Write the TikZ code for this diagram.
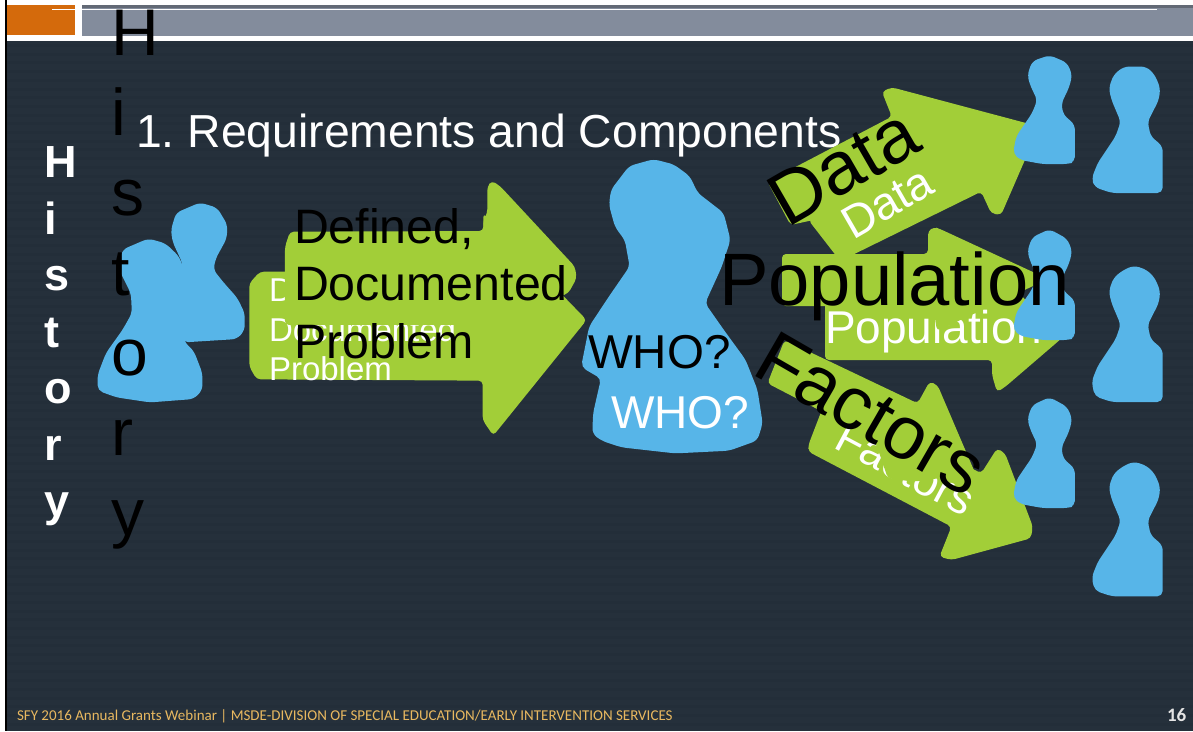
\documentclass[tikz,border=0pt]{standalone}
\usepackage{fontspec}
\setmainfont{Liberation Sans}
\newfontfamily\foot{Carlito}
\definecolor{bgdark}{HTML}{25303B}
\definecolor{bgline}{HTML}{232E39}
\definecolor{grn}{HTML}{A2CE38}
\definecolor{blu}{HTML}{57B5E8}
\definecolor{org}{HTML}{D46A0C}
\definecolor{gry}{HTML}{838C9C}
\definecolor{gold}{HTML}{E8B860}
\tikzset{
  fillg/.style={fill=grn,rounded corners=4pt},
  fillb/.style={fill=blu,draw=blu,line width=1.5pt,line join=round,rounded corners=5pt},
  txt/.style={inner sep=0pt,outer sep=0pt,anchor=base west},
  wt/.style={txt,text=white},
  bk/.style={txt,text=black},
  zthree/.style={shift={(570,50)},x=0.3973pt,y=-0.3333pt},
  zfour/.style={shift={(570,300)},x=0.3973pt,y=-0.3333pt},
  ztwo/.style={shift={(90,170)},x=0.3333pt,y=-0.3333pt}
}
\newcommand{\fs}[1]{\fontsize{#1}{#1}\selectfont}
\newcommand{\smallp}[2]{\path[fillb,zthree,yshift=-#1pt]
 (1207,#2)--(1165,35)--(1153,75)--(1160,105)--(1178,150)--(1165,190)--(1125,260)--(1117,310)--(1135,328)--(1190,340)--(1250,340)--(1269,335)--(1269,225)--(1240,195)--(1235,160)--(1255,110)--(1262,75)--(1250,40)--cycle;}
\newcommand{\bigp}[3]{\path[fillb,zthree,yshift=-#1pt]
 (1395,52)--(1420,#2)--(1450,52)--(1470,75)--(1484,115)--(1480,150)--(1452,215)--(1460,260)--(1490,290)--(1490,#3)--(1365,#3)--(1322,#3-17)--(1315,385)--(1330,340)--(1375,260)--(1388,215)--(1365,150)--(1358,115)--(1370,75)--cycle;}
\begin{document}
\begin{tikzpicture}[x=1pt,y=-1pt]
\useasboundingbox (0,0) rectangle (1193,731);
% page and background
\fill[white] (0,0) rectangle (1193,731);
\fill[bgdark] (6,41) rectangle (1193,731);
\foreach \k in {0,...,78}{\fill[bgline] (6,{44+8.7*\k}) rectangle (1193,{47+8.7*\k});}
\fill[black] (4.5,0) rectangle (6.5,731);
% top band
\fill[org] (7,5) rectangle (75,35);
\fill[gry] (82,5) rectangle (1193,36);
\fill[gry!75!black] (82,5) rectangle (1193,8);
\fill[white] (52,9) rectangle (75,10);
\fill[white] (82,9) rectangle (1157,10);
% title
\node[wt] (title) at (136,147) {\fs{46.3}1.\hspace{-4pt} Requirements and Components};
% left persons
\begin{scope}[ztwo]
\path[fillb] (330,100)--(380,115)--(410,165)--(408,205)--(375,265)--(368,300)--(400,340)--(440,385)--(462,430)--(462,480)--(440,505)--(280,515)--(240,400)--(275,320)--(280,280)--(250,215)--(245,180)--(260,130)--cycle;
\path[fillb] (175,208)--(225,222)--(265,260)--(280,300)--(275,400)--(280,515)--(310,545)--(335,610)--(335,660)--(310,685)--(180,695)--(80,680)--(25,660)--(25,615)--(50,550)--(100,480)--(128,430)--(125,370)--(100,320)--(85,290)--(100,240)--cycle;
\end{scope}
% left arrow, lower
\begin{scope}[ztwo]
\fill[fillg] (478,340)--(510,305)--(1180,305)--(1180,130)--(1490,450)--(1210,797)--(1178,750)--(1178,632)--(500,628)--(478,590)--cycle;
\end{scope}
\node[wt] (d1w) at (269,301) {\fs{33}Defined,};
\node[wt] (d2w) at (269,341) {\fs{33}Documented};
\node[wt] (d3w) at (269,380) {\fs{33}Problem};
\begin{scope}[ztwo]
\fill[fillg] (585,465)--(585,230)--(600,185)--(1180,183)--(1180,150)--(1192,130)--(1192,50)--(1205,32)--(1230,48)--(1455,290)--(1460,325)--(1435,370)--(1180,465)--cycle;
\end{scope}
% middle person
\begin{scope}[zthree]
\path[fillb] (210,330)--(150,350)--(105,420)--(100,465)--(115,530)--(140,570)--(152,650)--(100,740)--(50,830)--(30,950)--(80,985)--(60,1090)--(58,1150)--(80,1170)--(130,1190)--(265,1208)--(400,1200)--(470,1170)--(483,1120)--(470,1020)--(440,930)--(385,840)--(338,760)--(380,650)--(402,570)--(385,490)--(320,430)--(300,380)--(260,345)--cycle;
\end{scope}
\node[wt] (whow) at (611,428) {\fs{46}WHO?};
% data arrows
\begin{scope}[zthree]
\fill[fillg] (600,510)--(860,355)--(860,180)--(1175,245)--(1145,330)--(1085,495)--(1060,490)--(1035,425)--(680,633)--cycle;
\fill[fillg] (497,395)--(810,200)--(785,125)--(810,112)--(1160,223)--(960,420)--(555,525)--cycle;
\end{scope}
\node[wt,rotate=30] (dataw) at (853,240) {\fs{46}Data};
% population arrows
\fill[fillg] (825,295)--(995,295)--(995,268)--(1062,338)--(1005,387)--(997,392)--(992,375)--(992,360)--(825,360)--cycle;
\node[wt] (popw) at (825,343) {\fs{46}Population};
\fill[fillg] (782,254)--(928,254)--(928,231)--(934,227)--(940,229)--(1048,279)--(937,331)--(933,306)--(782,306)--cycle;
% factors arrows
\begin{scope}[zfour]
\fill[fillg] (650,280)--(1035,520)--(1075,445)--(1095,460)--(1165,680)--(1160,715)--(960,780)--(930,770)--(960,680)--(600,455)--(600,435)--cycle;
\end{scope}
\node[wt,rotate=-28] (facw) at (832,447) {\fs{45}Factors};
\begin{scope}[zfour]
\fill[fillg] (540,120)--(875,310)--(905,245)--(925,255)--(1020,520)--(865,545)--(800,535)--(770,430)--(635,335)--(497,250)--cycle;
\end{scope}
% right persons
\smallp{0}{18}
\smallp{176}{12}
\smallp{344}{12}
\bigp{0}{52}{427}
\bigp{203}{40}{445}
\bigp{399}{40}{440}
% white-on-left History
\foreach \c/\yy [count=\i] in {H/177,i/234,s/290,t/347,o/403,r/460,y/516}{
  \node[wt,font=\bfseries] (hw\i) at (44,\yy) {\fs{45}\c};
}
% black texts
\foreach \c/\yy [count=\i] in {H/55,i/135,s/215,t/295,o/375,r/455,y/535}{
  \node[bk] (hb\i) at (111,\yy) {\fs{66}\c};
}
\node[bk] (d1b) at (294,243) {\fs{48.3}Defined,};
\node[bk] (d2b) at (294,300) {\fs{48.3}Documented};
\node[bk] (d3b) at (294,358) {\fs{48.3}Problem};
\node[bk] (whob) at (588,368) {\fs{47.5}WHO?};
\node[bk,rotate=30] (datab) at (787,228) {\fs{75}Data};
\node[bk] (popb) at (719,305) {\fs{74.2}Population};
\node[bk,rotate=-30] (facb) at (750,373) {\fs{75}Factors};
% footer
\node[txt,text=gold] (foot) at (17,720) {\foot\fs{15}SFY 2016 Annual Grants Webinar | MSDE-DIVISION OF SPECIAL EDUCATION/EARLY INTERVENTION SERVICES};
\node[txt,text=white!90!black] (num) at (1167,721) {\foot\bfseries\fs{19}16};
\end{tikzpicture}
\end{document}
